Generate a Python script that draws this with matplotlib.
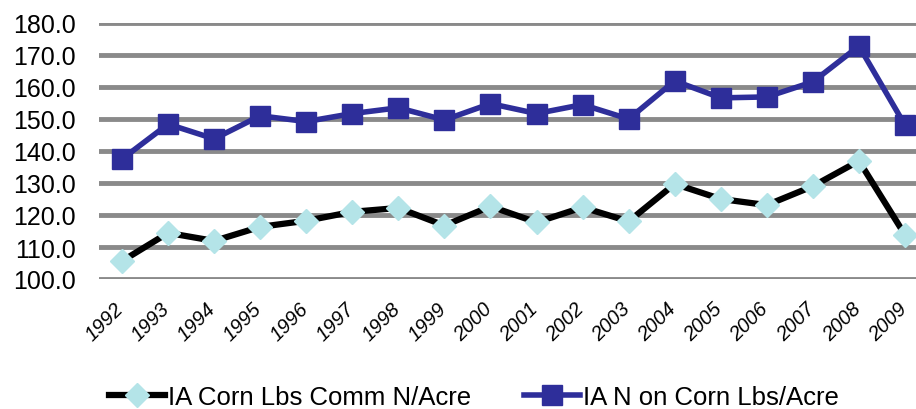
import matplotlib.pyplot as plt
import matplotlib.transforms as mtransforms

years = [str(y) for y in range(1992, 2010)]
commN = [105.6, 114.4, 111.9, 116.3, 118.2, 121.0, 122.2, 116.7, 122.7,
         117.7, 122.4, 118.0, 129.7, 125.0, 123.1, 129.0, 136.9, 113.8]
totalN = [137.5, 148.4, 143.8, 151.0, 149.2, 151.7, 153.5, 149.7, 154.8,
          151.7, 154.5, 150.0, 161.9, 156.6, 156.9, 161.6, 172.8, 148.1]
yticks = [100, 110, 120, 130, 140, 150, 160, 170, 180]

plt.rcParams["font.family"] = ["Liberation Sans", "DejaVu Sans"]

fig = plt.figure(figsize=(9.16, 4.10), dpi=100)
ax = fig.add_axes([99 / 916, 1 - 280 / 410, 829 / 916, 256 / 410])

x = list(range(len(years)))
ax.plot(x, commN, color="black", linewidth=4.5, marker="D", markersize=12,
        markerfacecolor="#b4e4e8", markeredgecolor="#b4e4e8",
        label="IA Corn Lbs Comm N/Acre", zorder=3)
ax.plot(x, totalN, color="#2e2e9a", linewidth=4, marker="s", markersize=15,
        markerfacecolor="#2e2e9a", markeredgecolor="#2e2e9a",
        label="IA N on Corn Lbs/Acre", zorder=3)

ax.set_xlim(-0.5, len(years) - 0.5)
ax.set_ylim(100, 180)
ax.set_yticks(yticks)
ax.set_yticklabels([f"{v:.1f}" for v in yticks], fontsize=18)
ax.set_xticks(x)
ax.set_xticklabels([])

# rotated year labels, right edge sitting under each point
shift = mtransforms.ScaledTranslation(-8 / 100, -20 / 100, fig.dpi_scale_trans)
for xi, yr in zip(x, years):
    ax.text(xi, 0, yr, transform=ax.get_xaxis_transform() + shift,
            rotation=45, ha="right", va="top", rotation_mode="anchor",
            fontsize=14.5, style="italic")

ax.tick_params(length=0, axis="y", pad=17)
ax.tick_params(length=0, axis="x")
ax.grid(axis="y", color="#8a8a8a", linewidth=3.5, zorder=0)
ax.set_axisbelow(True)
for s in ax.spines.values():
    s.set_visible(False)

fig.legend(loc="center left", bbox_to_anchor=(96 / 916, 1 - 398 / 410),
           ncol=2, frameon=False, fontsize=18.5, columnspacing=2.05,
           handlelength=2.2, handletextpad=0.1, borderpad=0)

fig.savefig("out.png", dpi=100)
